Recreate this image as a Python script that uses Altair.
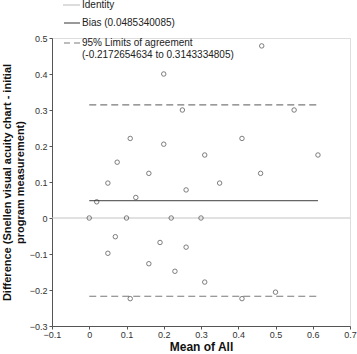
import altair as alt
import pandas as pd

mean_all = [0.463, 0.20, 0.25, 0.55, 0.11, 0.41, 0.20, 0.075, 0.31, 0.614,
            0.16, 0.46, 0.05, 0.35, 0.26, 0.125, 0.02, 0.0, 0.10, 0.22,
            0.30, 0.07, 0.19, 0.26, 0.05, 0.16, 0.23, 0.31, 0.50, 0.11, 0.41]
difference = [0.478, 0.40, 0.30, 0.30, 0.221, 0.221, 0.205, 0.155, 0.175, 0.175,
              0.124, 0.124, 0.097, 0.097, 0.078, 0.057, 0.045, 0.0, 0.0, 0.0,
              0.0, -0.052, -0.068, -0.081, -0.098, -0.127, -0.148, -0.178, -0.206, -0.224, -0.224]

bias = 0.0485340085
loa_low = -0.2172654634
loa_high = 0.3143334805
x_ticks = [-0.1, 0.0, 0.1, 0.2, 0.3, 0.4, 0.5, 0.6, 0.7]
y_ticks = [-0.3, -0.2, -0.1, 0.0, 0.1, 0.2, 0.3, 0.4, 0.5]

legend_labels = ["Identity", "Bias (0.0485340085)", "95% Limits of agreement",
                 "(-0.2172654634 to 0.3143334805)"]

FONT = "Liberation Sans"

pts = pd.DataFrame({"m": mean_all, "d": difference})
xmin, xmax = min(mean_all), max(mean_all)
lines = pd.DataFrame({"x1": [xmin, xmin, xmin], "x2": [xmax, xmax, xmax],
                      "y": [bias, loa_low, loa_high],
                      "kind": ["bias", "loa", "loa"]})
ident = pd.DataFrame({"x1": [x_ticks[0]], "x2": [x_ticks[-1]], "y": [0.0]})

xscale = alt.Scale(domain=[-0.1, 0.7], nice=False, zero=False)
yscale = alt.Scale(domain=[-0.3, 0.5], nice=False, zero=False)

xaxis = alt.Axis(values=x_ticks, format=".1~f", title="Mean of All", grid=False,
                 domainColor="#555", tickColor="#555", tickSize=3, labelOverlap=False,
                 labelFont=FONT, labelFontSize=9, labelColor="#333",
                 titleFont=FONT, titleFontSize=12, titleFontWeight="bold",
                 titleColor="#111", titlePadding=2, labelPadding=1)
yaxis = alt.Axis(values=y_ticks, format=".1~f",
                 title=["Difference (Snellen visual acuity chart - initial",
                        "program measurement)"], grid=False,
                 domainColor="#555", tickColor="#555", tickSize=3, labelOverlap=False,
                 labelFont=FONT, labelFontSize=9, labelColor="#333",
                 titleFont=FONT, titleFontSize=11, titleFontWeight="bold",
                 titleColor="#111", titlePadding=4, labelPadding=2)

identity_layer = alt.Chart(ident).mark_rule(color="#c4c4c4", strokeWidth=1.2).encode(
    x=alt.X("x1:Q", scale=xscale, axis=xaxis),
    x2="x2:Q",
    y=alt.Y("y:Q", scale=yscale, axis=yaxis))

bias_layer = alt.Chart(lines[lines.kind == "bias"]).mark_rule(color="#666666", strokeWidth=1.2).encode(
    x=alt.X("x1:Q", scale=xscale, axis=xaxis), x2="x2:Q", y=alt.Y("y:Q", scale=yscale, axis=yaxis))

loa_layer = alt.Chart(lines[lines.kind == "loa"]).mark_rule(
    color="#7a7a7a", strokeWidth=1.1, strokeDash=[7, 4]).encode(
    x=alt.X("x1:Q", scale=xscale, axis=xaxis), x2="x2:Q", y=alt.Y("y:Q", scale=yscale, axis=yaxis))

points = alt.Chart(pts).mark_point(shape="circle", filled=False, color="#333333",
                                   size=20, strokeWidth=0.9).encode(
    x=alt.X("m:Q", scale=xscale, axis=xaxis), y=alt.Y("d:Q", scale=yscale, axis=yaxis))

# legend (drawn manually, positions relative to plot origin)
leg_df = pd.DataFrame({"t": [0]})
leg_ident = alt.Chart(leg_df).mark_rule(color="#c4c4c4", strokeWidth=1.2).encode(
    x=alt.value(11), x2=alt.value(28), y=alt.value(-33))
leg_bias = alt.Chart(leg_df).mark_rule(color="#555555", strokeWidth=1.2).encode(
    x=alt.value(12), x2=alt.value(28), y=alt.value(-15))
leg_loa = alt.Chart(leg_df).mark_rule(color="#7a7a7a", strokeWidth=1.1, strokeDash=[6, 4]).encode(
    x=alt.value(12), x2=alt.value(28), y=alt.value(5))

texts = []
for lab, yy in zip(legend_labels, [-33, -15, 5, 17]):
    texts.append(alt.Chart(leg_df).mark_text(
        text=lab, align="left", baseline="middle", font=FONT, fontSize=10,
        color="#222").encode(x=alt.value(30), y=alt.value(yy)))

chart = alt.layer(identity_layer, bias_layer, loa_layer, points,
                  leg_ident, leg_bias, leg_loa, *texts).properties(
    width=298, height=288,
    autosize=alt.AutoSizeParams(type="none"),
    padding={"left": 52, "top": 38, "right": 7, "bottom": 28}
).configure_view(stroke=None).configure(background="white").configure_axis(
    labelOverlap=False, labelFlush=False)

chart.save("out.html", embed_options={"renderer": "svg", "actions": False})
